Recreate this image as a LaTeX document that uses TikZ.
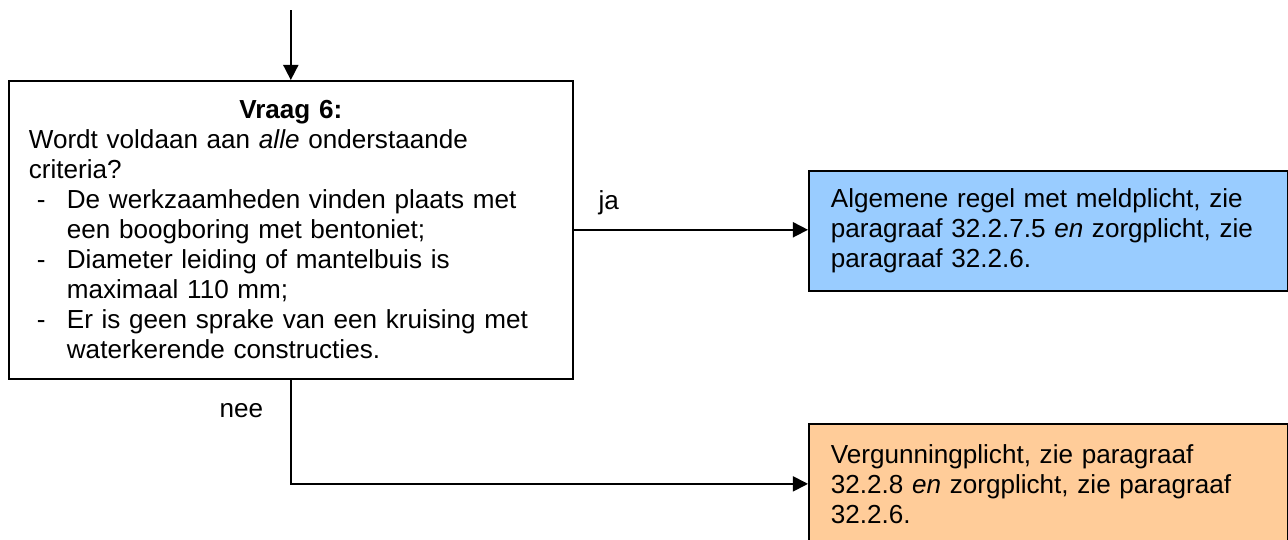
\documentclass[tikz,border=0pt]{standalone}
\usepackage{fontspec}
\setmainfont{Liberation Sans}
\usepackage{xcolor}
\usetikzlibrary{positioning,arrows.meta,calc}
\definecolor{jablauw}{RGB}{153,204,255}
\definecolor{neeoranje}{RGB}{255,204,153}
\tikzset{
  vraagbox/.style={draw,line width=0.8pt,anchor=north west,inner xsep=9.2pt,
    text width=241pt,minimum width=259.4pt,minimum height=137pt,align=left},
  uitkomst/.style={draw,line width=0.8pt,anchor=north west,inner xsep=9.2pt,
    text width=200pt,minimum width=220.3pt,align=left},
  pijl/.style={line width=0.8pt,-{Triangle[length=7pt,width=7pt]}}
}
\newcommand{\streep}{\makebox[17.5pt][l]{\hspace{3.7pt}-}}
\newcommand{\inspring}{\hspace*{17.5pt}}

\begin{document}
\begin{tikzpicture}[x=0.46pt,y=-0.46pt,font=\fontsize{12}{13.8}\selectfont]
		\clip (0,0) rectangle (1288,539);
		
		\node[vraagbox] (vraag) at (8,80) {{\centering\bfseries Vraag 6:\par}
			Wordt voldaan aan \textit{alle} onderstaande\\ criteria?\\
			\streep De werkzaamheden vinden plaats met\\
			\inspring een boogboring met bentoniet;\\
			\streep Diameter leiding of mantelbuis is\\
			\inspring maximaal 110 mm;\\
			\streep Er is geen sprake van een kruising met\\
			\inspring waterkerende constructies.};
		
		\node[uitkomst,fill=jablauw,minimum height=55.2pt] (melding) at (808,170)
			{Algemene regel met meldplicht, zie\\ paragraaf 32.2.7.5 \textit{en} zorgplicht, zie\\ paragraaf 32.2.6.};
		\node[uitkomst,fill=neeoranje,minimum height=55.2pt] (vergunning) at (808,423)
			{Vergunningplicht, zie paragraaf\\ 32.2.8 \textit{en} zorgplicht, zie paragraaf\\ 32.2.6.};
		
		\coordinate (boven) at (vraag.north |- 0,10);
		\draw[pijl] (boven) -- (vraag.north);
		\draw[pijl] (vraag.east) -- (vraag.east -| melding.west) node[pos=0.15,above=3pt]{ja};
		\draw[pijl] (vraag.south) |- (vergunning.west) node[pos=0.15,left=9pt]{nee};
		\end{tikzpicture}
\end{document}
